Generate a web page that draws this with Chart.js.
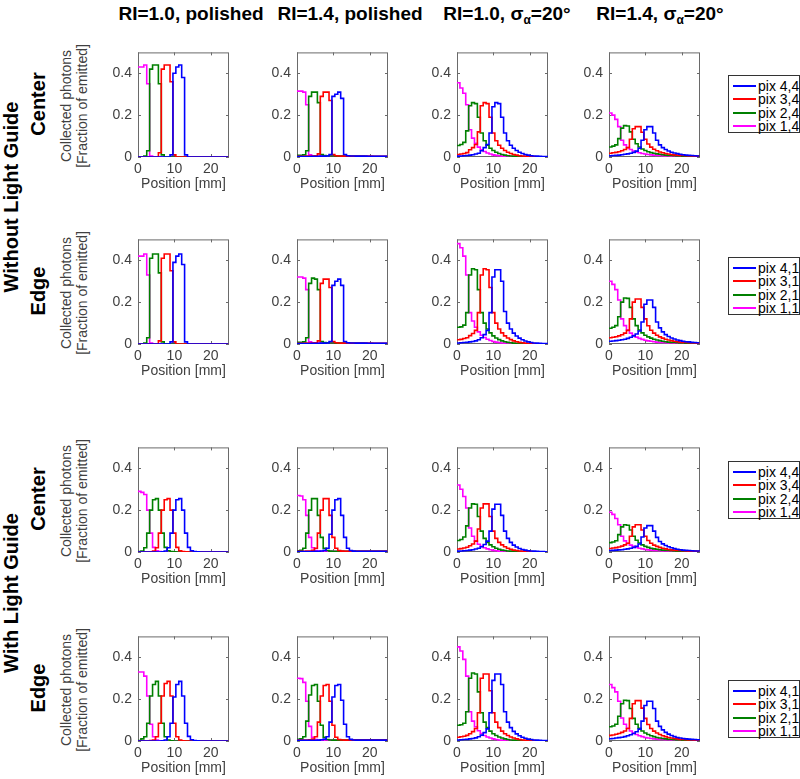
<!DOCTYPE html>
<html><head><meta charset="utf-8">
<script src="https://cdn.jsdelivr.net/npm/chart.js@4.4.1/dist/chart.umd.min.js"></script>
<style>
html,body{margin:0;padding:0;background:#fff;}
body{width:800px;height:779px;position:relative;overflow:hidden;font-family:"Liberation Sans",Arial,Helvetica,sans-serif;}
.panel{position:absolute;}
.title{position:absolute;font-weight:bold;font-size:19px;color:#000;white-space:nowrap;transform:translateX(-50%);line-height:20px;}
.title sub{font-size:12px;vertical-align:-4px;}
.rot{position:absolute;white-space:nowrap;transform:translate(-50%,-50%) rotate(-90deg);}
.big{font-weight:bold;font-size:20px;color:#000;line-height:22px;}
.ytitle{font-size:14px;color:#404040;line-height:15.5px;text-align:center;}
.legend{position:absolute;left:728px;width:72px;height:58px;border:1px solid #333;background:#fff;box-sizing:border-box;}
.legend .item{position:absolute;left:4px;height:14px;font-size:14px;line-height:14px;color:#000;white-space:nowrap;}
.legend .sw{position:absolute;left:0;top:6px;width:23px;height:0;border-top:2px solid;}
.legend .tx{position:absolute;left:25px;top:0;}
</style></head>
<body>
<script>
// ---- data ----
const positions = [0,0.8,1.6,2.4,3.2,4,4.8,5.6,6.4,7.2,8,8.8,9.6,10.4,11.2,12,12.8,13.6,14.4,15.2,16,16.8,17.6,18.4,19.2,20,20.8,21.6,22.4,23.2,24,24.8];
const xTickValues = [0,10,20];
const xTickLabels = ['0','10','20'];
const yTickValues = [0,0.2,0.4];
const yTickLabels = ['0','0.2','0.4'];
const columnTitles = ['RI=1.0, polished','RI=1.4, polished','RI=1.0, σ<sub>α</sub>=20°','RI=1.4, σ<sub>α</sub>=20°'];
const groupLabels = ['Without Light Guide','With Light Guide'];
const rowLabels = ['Center','Edge','Center','Edge'];
const legendCenter = ['pix 4,4','pix 3,4','pix 2,4','pix 1,4'];
const legendEdge = ['pix 4,1','pix 3,1','pix 2,1','pix 1,1'];
const seriesColors = ['#0000ff','#ff0000','#008000','#ff00ff'];

// Without light guide, center
const p11_b = [0,0,0,0, 0,0,0,0, 0,0,0,0.01, 0.40,0.43,0.44,0.38, 0.01,0,0,0, 0,0,0,0, 0,0,0,0, 0,0,0,0];
const p11_r = [0,0,0,0, 0,0,0,0.02, 0.42,0.44,0.44,0.36, 0.01,0,0,0, 0,0,0,0, 0,0,0,0, 0,0,0,0, 0,0,0,0];
const p11_g = [0,0,0.005,0.03, 0.42,0.44,0.44,0.35, 0.01,0,0,0, 0,0,0,0, 0,0,0,0, 0,0,0,0, 0,0,0,0, 0,0,0,0];
const p11_m = [0.43,0.43,0.44,0.35, 0.005,0,0,0, 0,0,0,0, 0,0,0,0, 0,0,0,0, 0,0,0,0, 0,0,0,0, 0,0,0,0];

const p12_b = [0.002,0.002,0.002,0.002, 0.002,0.003,0.003,0.003, 0.004,0.004,0.005,0.012, 0.29,0.30,0.31,0.28, 0.012,0.006,0.005,0.005, 0.004,0.004,0.004,0.004, 0.003,0.003,0.003,0.003, 0.003,0.003,0.003,0.003];
const p12_r = [0.003,0.003,0.003,0.004, 0.004,0.005,0.006,0.015, 0.29,0.31,0.31,0.27, 0.012,0.006,0.005,0.004, 0.004,0.004,0.003,0.003, 0.003,0.003,0.003,0.003, 0.003,0.003,0.002,0.002, 0.002,0.002,0.002,0.002];
const p12_g = [0.008,0.008,0.01,0.03, 0.29,0.31,0.31,0.26, 0.012,0.007,0.006,0.005, 0.005,0.004,0.004,0.004, 0.003,0.003,0.003,0.003, 0.003,0.003,0.003,0.002, 0.002,0.002,0.002,0.002, 0.002,0.002,0.002,0.002];
const p12_m = [0.315,0.315,0.31,0.25, 0.01,0.006,0.005,0.005, 0.004,0.004,0.004,0.004, 0.003,0.003,0.003,0.003, 0.003,0.003,0.003,0.003, 0.003,0.003,0.003,0.003, 0.003,0.003,0.003,0.003, 0.003,0.003,0.003,0.003];

const p13_b = [0.004,0.005,0.006,0.007, 0.009,0.011,0.014,0.018, 0.03,0.045,0.06,0.115, 0.24,0.26,0.255,0.19, 0.115,0.078,0.056,0.042, 0.031,0.023,0.017,0.012, 0.009,0.006,0.005,0.004, 0.003,0.002,0.002,0.001];
const p13_r = [0.012,0.014,0.017,0.021, 0.035,0.045,0.06,0.12, 0.245,0.26,0.255,0.19, 0.115,0.078,0.056,0.042, 0.031,0.023,0.017,0.012, 0.009,0.006,0.005,0.004, 0.003,0.002,0.002,0.001, 0.001,0.001,0.001,0.001];
const p13_g = [0.055,0.06,0.07,0.125, 0.245,0.26,0.255,0.19, 0.115,0.078,0.056,0.042, 0.031,0.023,0.017,0.012, 0.009,0.006,0.005,0.004, 0.003,0.002,0.002,0.001, 0.001,0.001,0.001,0.001, 0.001,0,0,0];
const p13_m = [0.355,0.33,0.305,0.25, 0.13,0.09,0.065,0.047, 0.035,0.026,0.019,0.014, 0.01,0.008,0.006,0.004, 0.003,0.002,0.002,0.001, 0.001,0.001,0.001,0.001, 0,0,0,0, 0,0,0,0];

const p14_b = [0.006,0.007,0.008,0.009, 0.011,0.013,0.015,0.018, 0.022,0.028,0.042,0.08, 0.13,0.145,0.145,0.115, 0.08,0.058,0.045,0.036, 0.029,0.023,0.019,0.016, 0.013,0.011,0.009,0.008, 0.007,0.006,0.005,0.005];
const p14_r = [0.018,0.02,0.022,0.025, 0.03,0.036,0.045,0.085, 0.135,0.145,0.145,0.118, 0.085,0.062,0.047,0.037, 0.03,0.024,0.02,0.017, 0.014,0.012,0.01,0.009, 0.008,0.007,0.006,0.005, 0.005,0.004,0.004,0.004];
const p14_g = [0.048,0.052,0.058,0.088, 0.138,0.15,0.148,0.12, 0.085,0.063,0.048,0.038, 0.031,0.025,0.021,0.018, 0.015,0.013,0.011,0.009, 0.008,0.007,0.006,0.005, 0.005,0.004,0.004,0.003, 0.003,0.003,0.003,0.002];
const p14_m = [0.21,0.20,0.18,0.145, 0.08,0.058,0.045,0.036, 0.029,0.024,0.02,0.017, 0.014,0.012,0.01,0.009, 0.008,0.007,0.006,0.005, 0.005,0.004,0.004,0.003, 0.003,0.003,0.002,0.002, 0.002,0.002,0.002,0.002];

// Without light guide, edge
const p21_b = [0,0,0,0, 0,0,0,0, 0,0,0,0.01, 0.39,0.42,0.43,0.38, 0.01,0,0,0, 0,0,0,0, 0,0,0,0, 0,0,0,0];
const p21_r = [0,0,0,0, 0,0,0,0.015, 0.41,0.43,0.43,0.35, 0.01,0,0,0, 0,0,0,0, 0,0,0,0, 0,0,0,0, 0,0,0,0];
const p21_g = [0,0,0.005,0.03, 0.41,0.43,0.43,0.34, 0.01,0,0,0, 0,0,0,0, 0,0,0,0, 0,0,0,0, 0,0,0,0, 0,0,0,0];
const p21_m = [0.42,0.42,0.43,0.33, 0.005,0,0,0, 0,0,0,0, 0,0,0,0, 0,0,0,0, 0,0,0,0, 0,0,0,0, 0,0,0,0];

const p22_b = [0.002,0.002,0.002,0.002, 0.002,0.003,0.003,0.003, 0.004,0.004,0.005,0.012, 0.28,0.30,0.31,0.28, 0.012,0.006,0.005,0.005, 0.004,0.004,0.004,0.004, 0.003,0.003,0.003,0.003, 0.003,0.003,0.003,0.003];
const p22_r = [0.003,0.003,0.003,0.004, 0.004,0.005,0.006,0.015, 0.29,0.31,0.31,0.27, 0.012,0.006,0.005,0.004, 0.004,0.004,0.003,0.003, 0.003,0.003,0.003,0.003, 0.003,0.003,0.002,0.002, 0.002,0.002,0.002,0.002];
const p22_g = [0.008,0.008,0.01,0.03, 0.29,0.315,0.31,0.26, 0.012,0.007,0.006,0.005, 0.005,0.004,0.004,0.004, 0.003,0.003,0.003,0.003, 0.003,0.003,0.003,0.002, 0.002,0.002,0.002,0.002, 0.002,0.002,0.002,0.002];
const p22_m = [0.32,0.32,0.315,0.26, 0.01,0.006,0.005,0.005, 0.004,0.004,0.004,0.004, 0.003,0.003,0.003,0.003, 0.003,0.003,0.003,0.003, 0.003,0.003,0.003,0.003, 0.003,0.003,0.003,0.003, 0.003,0.003,0.003,0.003];

const p23_b = [0.005,0.006,0.007,0.008, 0.01,0.012,0.015,0.02, 0.03,0.045,0.065,0.15, 0.32,0.355,0.355,0.30, 0.155,0.10,0.072,0.052, 0.038,0.028,0.02,0.014, 0.01,0.007,0.005,0.004, 0.003,0.002,0.002,0.001];
const p23_r = [0.02,0.022,0.026,0.03, 0.04,0.05,0.065,0.15, 0.33,0.36,0.355,0.27, 0.15,0.10,0.072,0.053, 0.039,0.029,0.021,0.015, 0.011,0.008,0.006,0.004, 0.003,0.002,0.002,0.001, 0.001,0.001,0.001,0.001];
const p23_g = [0.08,0.082,0.09,0.15, 0.33,0.36,0.355,0.26, 0.15,0.10,0.072,0.053, 0.039,0.029,0.021,0.015, 0.011,0.008,0.006,0.004, 0.003,0.002,0.002,0.001, 0.001,0.001,0.001,0.001, 0,0,0,0];
const p23_m = [0.48,0.46,0.42,0.33, 0.15,0.11,0.08,0.058, 0.042,0.031,0.023,0.017, 0.012,0.009,0.007,0.005, 0.004,0.003,0.002,0.002, 0.001,0.001,0.001,0.001, 0.001,0,0,0, 0,0,0,0];

const p24_b = [0.013,0.014,0.016,0.018, 0.02,0.023,0.027,0.032, 0.039,0.048,0.062,0.105, 0.19,0.21,0.21,0.175, 0.105,0.077,0.058,0.045, 0.036,0.029,0.024,0.019, 0.016,0.013,0.011,0.01, 0.008,0.007,0.006,0.006];
const p24_r = [0.03,0.032,0.035,0.039, 0.044,0.052,0.065,0.12, 0.20,0.215,0.215,0.175, 0.12,0.087,0.066,0.052, 0.042,0.034,0.028,0.023, 0.019,0.016,0.013,0.011, 0.009,0.008,0.007,0.006, 0.005,0.005,0.004,0.004];
const p24_g = [0.075,0.08,0.088,0.13, 0.20,0.22,0.218,0.175, 0.12,0.088,0.067,0.053, 0.042,0.034,0.028,0.023, 0.019,0.016,0.013,0.011, 0.009,0.008,0.007,0.006, 0.005,0.005,0.004,0.004, 0.004,0.003,0.003,0.003];
const p24_m = [0.30,0.285,0.26,0.21, 0.12,0.088,0.067,0.052, 0.041,0.033,0.027,0.022, 0.018,0.015,0.013,0.011, 0.009,0.008,0.007,0.006, 0.005,0.005,0.004,0.004, 0.003,0.003,0.003,0.003, 0.002,0.002,0.002,0.002];

// With light guide, center
const p31_b = [0,0,0,0, 0,0,0,0, 0.001,0.005,0.02,0.09, 0.20,0.25,0.255,0.20, 0.09,0.022,0.006,0.002, 0.001,0,0,0, 0,0,0,0, 0,0,0,0];
const p31_r = [0,0,0,0, 0.001,0.005,0.02,0.09, 0.20,0.25,0.255,0.20, 0.09,0.022,0.006,0.002, 0.001,0,0,0, 0,0,0,0, 0,0,0,0, 0,0,0,0];
const p31_g = [0.002,0.005,0.02,0.09, 0.20,0.25,0.255,0.20, 0.09,0.022,0.006,0.002, 0.001,0,0,0, 0,0,0,0, 0,0,0,0, 0,0,0,0, 0,0,0,0];
const p31_m = [0.29,0.285,0.275,0.20, 0.09,0.022,0.006,0.002, 0.001,0,0,0, 0,0,0,0, 0,0,0,0, 0,0,0,0, 0,0,0,0, 0,0,0,0];

const p32_b = [0.002,0.002,0.002,0.002, 0.002,0.002,0.003,0.003, 0.005,0.008,0.018,0.085, 0.20,0.25,0.255,0.175, 0.07,0.018,0.007,0.004, 0.003,0.003,0.003,0.003, 0.003,0.003,0.003,0.003, 0.003,0.003,0.003,0.003];
const p32_r = [0.003,0.003,0.003,0.004, 0.005,0.008,0.018,0.09, 0.20,0.255,0.255,0.175, 0.07,0.018,0.007,0.004, 0.003,0.003,0.003,0.003, 0.003,0.003,0.003,0.003, 0.003,0.003,0.003,0.003, 0.003,0.003,0.003,0.003];
const p32_g = [0.006,0.008,0.018,0.09, 0.20,0.255,0.255,0.175, 0.07,0.018,0.007,0.004, 0.003,0.003,0.003,0.003, 0.003,0.003,0.003,0.003, 0.003,0.003,0.003,0.003, 0.003,0.003,0.003,0.003, 0.003,0.003,0.003,0.003];
const p32_m = [0.27,0.268,0.25,0.175, 0.07,0.02,0.007,0.004, 0.003,0.003,0.003,0.003, 0.003,0.003,0.003,0.003, 0.003,0.003,0.003,0.003, 0.003,0.003,0.003,0.003, 0.003,0.003,0.003,0.003, 0.003,0.003,0.003,0.003];

const p33_b = [0.004,0.005,0.006,0.007, 0.009,0.011,0.014,0.018, 0.025,0.036,0.052,0.10, 0.205,0.228,0.228,0.175, 0.10,0.065,0.046,0.033, 0.024,0.017,0.012,0.009, 0.006,0.005,0.004,0.003, 0.002,0.002,0.001,0.001];
const p33_r = [0.014,0.016,0.019,0.023, 0.03,0.038,0.052,0.11, 0.21,0.23,0.23,0.17, 0.10,0.065,0.046,0.034, 0.025,0.018,0.013,0.009, 0.007,0.005,0.004,0.003, 0.002,0.002,0.001,0.001, 0.001,0.001,0,0];
const p33_g = [0.055,0.06,0.072,0.125, 0.21,0.23,0.228,0.17, 0.10,0.065,0.046,0.034, 0.025,0.018,0.013,0.009, 0.007,0.005,0.004,0.003, 0.002,0.002,0.001,0.001, 0.001,0.001,0,0, 0,0,0,0];
const p33_m = [0.32,0.30,0.265,0.21, 0.115,0.075,0.052,0.037, 0.027,0.02,0.015,0.011, 0.008,0.006,0.004,0.003, 0.002,0.002,0.001,0.001, 0.001,0.001,0,0, 0,0,0,0, 0,0,0,0];

const p34_b = [0.007,0.008,0.009,0.01, 0.011,0.013,0.015,0.018, 0.022,0.027,0.038,0.072, 0.115,0.126,0.126,0.10, 0.07,0.05,0.039,0.031, 0.025,0.02,0.016,0.013, 0.011,0.009,0.008,0.007, 0.006,0.005,0.005,0.004];
const p34_r = [0.017,0.019,0.021,0.024, 0.028,0.034,0.042,0.075, 0.12,0.13,0.13,0.105, 0.075,0.055,0.042,0.033, 0.027,0.022,0.018,0.015, 0.012,0.01,0.009,0.008, 0.007,0.006,0.005,0.004, 0.004,0.004,0.003,0.003];
const p34_g = [0.045,0.048,0.054,0.083, 0.12,0.13,0.128,0.105, 0.075,0.056,0.043,0.034, 0.027,0.022,0.018,0.015, 0.013,0.011,0.009,0.008, 0.007,0.006,0.005,0.004, 0.004,0.003,0.003,0.003, 0.003,0.002,0.002,0.002];
const p34_m = [0.19,0.18,0.16,0.13, 0.075,0.053,0.041,0.033, 0.027,0.022,0.018,0.015, 0.012,0.01,0.009,0.008, 0.007,0.006,0.005,0.004, 0.004,0.003,0.003,0.003, 0.002,0.002,0.002,0.002, 0.002,0.002,0.001,0.001];

// With light guide, edge
const p41_b = [0,0,0,0, 0,0,0,0, 0.001,0.005,0.02,0.085, 0.21,0.27,0.285,0.215, 0.085,0.022,0.006,0.002, 0.001,0,0,0, 0,0,0,0, 0,0,0,0];
const p41_r = [0,0,0,0, 0.002,0.005,0.02,0.085, 0.215,0.275,0.285,0.215, 0.085,0.02,0.005,0.001, 0,0,0,0, 0,0,0,0, 0,0,0,0, 0,0,0,0];
const p41_g = [0.002,0.01,0.02,0.085, 0.215,0.27,0.285,0.215, 0.085,0.02,0.005,0.001, 0,0,0,0, 0,0,0,0, 0,0,0,0, 0,0,0,0, 0,0,0,0];
const p41_m = [0.33,0.33,0.31,0.215, 0.08,0.02,0.005,0.001, 0,0,0,0, 0,0,0,0, 0,0,0,0, 0,0,0,0, 0,0,0,0, 0,0,0,0];

const p42_b = [0.003,0.003,0.003,0.003, 0.003,0.003,0.003,0.004, 0.006,0.009,0.02,0.09, 0.21,0.265,0.27,0.195, 0.08,0.02,0.008,0.005, 0.004,0.004,0.004,0.004, 0.004,0.004,0.004,0.004, 0.004,0.004,0.004,0.004];
const p42_r = [0.004,0.004,0.004,0.005, 0.006,0.009,0.02,0.09, 0.215,0.265,0.27,0.19, 0.075,0.018,0.007,0.005, 0.004,0.004,0.004,0.004, 0.004,0.004,0.004,0.004, 0.004,0.004,0.004,0.004, 0.004,0.004,0.004,0.004];
const p42_g = [0.008,0.01,0.02,0.095, 0.22,0.265,0.27,0.19, 0.075,0.018,0.007,0.005, 0.004,0.004,0.004,0.004, 0.004,0.004,0.004,0.004, 0.004,0.004,0.004,0.004, 0.004,0.004,0.004,0.004, 0.004,0.004,0.004,0.004];
const p42_m = [0.30,0.298,0.28,0.19, 0.07,0.018,0.007,0.005, 0.004,0.004,0.004,0.004, 0.004,0.004,0.004,0.004, 0.004,0.004,0.004,0.004, 0.004,0.004,0.004,0.004, 0.004,0.004,0.004,0.004, 0.004,0.004,0.004,0.004];

const p43_b = [0.005,0.006,0.007,0.008, 0.01,0.012,0.015,0.02, 0.028,0.04,0.058,0.135, 0.29,0.32,0.32,0.27, 0.14,0.09,0.064,0.046, 0.034,0.025,0.018,0.013, 0.009,0.007,0.005,0.004, 0.003,0.002,0.002,0.001];
const p43_r = [0.018,0.02,0.023,0.027, 0.035,0.045,0.06,0.135, 0.30,0.32,0.32,0.24, 0.135,0.09,0.064,0.047, 0.035,0.026,0.019,0.014, 0.01,0.007,0.005,0.004, 0.003,0.002,0.002,0.001, 0.001,0.001,0.001,0];
const p43_g = [0.075,0.078,0.085,0.14, 0.30,0.325,0.32,0.235, 0.135,0.09,0.064,0.047, 0.035,0.026,0.019,0.014, 0.01,0.007,0.005,0.004, 0.003,0.002,0.002,0.001, 0.001,0.001,0.001,0, 0,0,0,0];
const p43_m = [0.45,0.43,0.39,0.31, 0.14,0.095,0.068,0.049, 0.036,0.026,0.019,0.014, 0.01,0.007,0.005,0.004, 0.003,0.002,0.002,0.001, 0.001,0.001,0.001,0, 0,0,0,0, 0,0,0,0];

const p44_b = [0.011,0.012,0.014,0.016, 0.018,0.021,0.025,0.03, 0.036,0.044,0.057,0.095, 0.17,0.19,0.19,0.155, 0.095,0.07,0.053,0.041, 0.033,0.026,0.021,0.017, 0.014,0.012,0.01,0.009, 0.008,0.007,0.006,0.005];
const p44_r = [0.027,0.029,0.032,0.036, 0.041,0.048,0.06,0.108, 0.178,0.193,0.193,0.157, 0.108,0.079,0.06,0.047, 0.038,0.031,0.025,0.021, 0.017,0.014,0.012,0.01, 0.008,0.007,0.006,0.005, 0.005,0.004,0.004,0.004];
const p44_g = [0.068,0.072,0.08,0.118, 0.178,0.195,0.193,0.155, 0.108,0.08,0.061,0.048, 0.038,0.031,0.025,0.021, 0.017,0.014,0.012,0.01, 0.008,0.007,0.006,0.005, 0.005,0.004,0.004,0.003, 0.003,0.003,0.003,0.002];
const p44_m = [0.27,0.255,0.235,0.19, 0.11,0.08,0.061,0.048, 0.038,0.031,0.025,0.021, 0.017,0.014,0.012,0.01, 0.009,0.008,0.007,0.006, 0.005,0.004,0.004,0.003, 0.003,0.003,0.002,0.002, 0.002,0.002,0.002,0.002];

const panels = [
  [[p11_b,p11_r,p11_g,p11_m],[p12_b,p12_r,p12_g,p12_m],[p13_b,p13_r,p13_g,p13_m],[p14_b,p14_r,p14_g,p14_m]],
  [[p21_b,p21_r,p21_g,p21_m],[p22_b,p22_r,p22_g,p22_m],[p23_b,p23_r,p23_g,p23_m],[p24_b,p24_r,p24_g,p24_m]],
  [[p31_b,p31_r,p31_g,p31_m],[p32_b,p32_r,p32_g,p32_m],[p33_b,p33_r,p33_g,p33_m],[p34_b,p34_r,p34_g,p34_m]],
  [[p41_b,p41_r,p41_g,p41_m],[p42_b,p42_r,p42_g,p42_m],[p43_b,p43_r,p43_g,p43_m],[p44_b,p44_r,p44_g,p44_m]]
];

// ---- layout ----
const FONT = '"Liberation Sans", Arial, Helvetica, sans-serif';
const colLeft = [138, 297, 457, 609];
const rowTop = [50, 237, 445, 634];
const boxW = 91, boxH = 107;
const padL = 40, padT = 12, padR = 8, padB = 40;
const titleCenters = [191, 350, 507, 660];
const legendTops = [75, 257, 461, 680];

function el(tag, cls, html, style){
  const e = document.createElement(tag);
  if (cls) e.className = cls;
  if (html !== undefined) e.innerHTML = html;
  if (style) Object.assign(e.style, style);
  document.body.appendChild(e);
  return e;
}

columnTitles.forEach((t,i)=> el('div','title',t,{left:titleCenters[i]+'px', top:'4px'}));
el('div','rot big',groupLabels[0],{left:'11px', top:((rowTop[0]+rowTop[1]+boxH)/2)+'px'});
el('div','rot big',groupLabels[1],{left:'11px', top:((rowTop[2]+rowTop[3]+boxH)/2)+'px'});
rowLabels.forEach((t,r)=>{
  el('div','rot big',t,{left:'38px', top:(rowTop[r]+boxH/2)+'px'});
  el('div','rot ytitle','Collected photons<br>[Fraction of emitted]',{left:'74px', top:(rowTop[r]+boxH/2+2)+'px'});
});

rowLabels.forEach((t,r)=>{
  const names = (r % 2 === 0) ? legendCenter : legendEdge;
  const lg = el('div','legend',undefined,{top:legendTops[r]+'px'});
  names.forEach((n,k)=>{
    const it = document.createElement('div');
    it.className = 'item';
    it.style.top = (3 + k*13.3) + 'px';
    it.innerHTML = '<span class="sw" style="border-color:'+seriesColors[k]+'"></span><span class="tx">'+n+'</span>';
    lg.appendChild(it);
  });
});

const boxPlugin = {
  id:'matlabBox',
  beforeDatasetsDraw(chart){
    const {ctx, chartArea:a, scales} = chart;
    ctx.save();
    ctx.strokeStyle = '#6a6a6a';
    ctx.lineWidth = 1;
    ctx.strokeRect(a.left+0.5, a.top+0.5, a.right-a.left-1, a.bottom-a.top-1);
    ctx.beginPath();
    const tl = 3;
    yTickValues.forEach(v=>{
      const py = Math.round(scales.y.getPixelForValue(v))+0.5;
      ctx.moveTo(a.left, py); ctx.lineTo(a.left+tl, py);
      ctx.moveTo(a.right, py); ctx.lineTo(a.right-tl, py);
    });
    xTickValues.forEach(v=>{
      const px = Math.round(scales.x.getPixelForValue(v))+0.5;
      ctx.moveTo(px, a.bottom); ctx.lineTo(px, a.bottom-tl);
      ctx.moveTo(px, a.top); ctx.lineTo(px, a.top+tl);
    });
    ctx.stroke();
    ctx.restore();
  }
};

panels.forEach((row, r)=>{
  row.forEach((series, c)=>{
    const w = padL + boxW + padR, h = padT + boxH + padB;
    const holder = el('div','panel',undefined,{left:(colLeft[c]-padL)+'px', top:(rowTop[r]-padT)+'px', width:w+'px', height:h+'px'});
    const cv = document.createElement('canvas');
    cv.width = w; cv.height = h;
    cv.style.width = w+'px'; cv.style.height = h+'px';
    holder.appendChild(cv);
    const names = (r % 2 === 0) ? legendCenter : legendEdge;
    new Chart(cv, {
      type:'line',
      data:{datasets: series.map((ys,k)=>({
        label:names[k],
        data: positions.map((x,i)=>({x:x, y:ys[i]})),
        borderColor: seriesColors[k],
        borderWidth: 1.6,
        pointRadius: 0,
        stepped: true,
        fill: false,
        tension: 0
      }))},
      options:{
        responsive:false, animation:false, events:[],
        layout:{padding:{top:padT, right:padR, bottom:0, left:0}},
        plugins:{legend:{display:false}, tooltip:{enabled:false}},
        scales:{
          x:{type:'linear', min:0, max:25,
             afterBuildTicks:(s)=>{ s.ticks = xTickValues.map(v=>({value:v})); },
             afterFit:(s)=>{ s.height = padB; },
             grid:{display:false, drawTicks:false}, border:{display:false},
             ticks:{padding:4, color:'#404040', maxRotation:0, autoSkip:false, font:{family:FONT, size:14},
                    callback:(v)=> xTickLabels[xTickValues.indexOf(v)]},
             title:{display:true, text:'Position [mm]', color:'#404040', font:{family:FONT, size:14}, padding:{top:1, bottom:4}}
          },
          y:{type:'linear', min:0, max:0.5,
             afterBuildTicks:(s)=>{ s.ticks = yTickValues.map(v=>({value:v})); },
             afterFit:(s)=>{ s.width = padL; },
             grid:{display:false, drawTicks:false}, border:{display:false},
             ticks:{padding:6, color:'#404040', autoSkip:false, font:{family:FONT, size:14},
                    callback:(v)=> yTickLabels[yTickValues.indexOf(v)]}
          }
        }
      },
      plugins:[boxPlugin]
    });
  });
});
</script>
</body></html>
